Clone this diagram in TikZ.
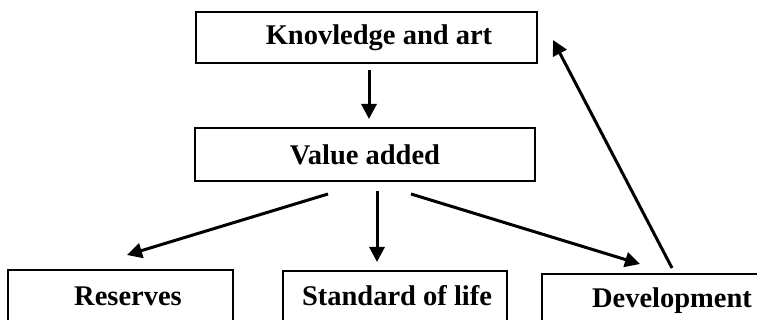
\documentclass[tikz,border=0pt]{standalone}
\usepackage{fontspec}
\setmainfont{Liberation Serif}
\usetikzlibrary{arrows.meta}

\tikzset{
  box/.style={draw=black, line width=2pt, rectangle, inner sep=0pt},
  label text/.style={anchor=base, inner sep=0pt,
    font=\fontsize{28.5pt}{30pt}\selectfont\bfseries},
  flow/.style={line width=3pt, -{Triangle[length=15pt,width=15pt]}},
}

\begin{document}
\begin{tikzpicture}[x=1pt, y=-1pt]
  \useasboundingbox (0,0) rectangle (757,320);
  \clip (0,0) rectangle (757,320);
  \fill[white] (0,0) rectangle (757,320);

  % boxes
  \node[box, minimum width=341pt, minimum height=51pt] (ka) at (366.5,37.5) {};
  \node[box, minimum width=340pt, minimum height=53pt] (va) at (365,154.5) {};
  \node[box, minimum width=225pt, minimum height=80pt] (res) at (120.5,310) {};
  \node[box, minimum width=224pt, minimum height=80pt] (sol) at (395,311) {};
  \node[box, minimum width=258pt, minimum height=80pt] (dev) at (671,314) {};

  % labels
  \node[label text] (ka-t)  at (379,45)  {Knovledge and art};
  \node[label text] (va-t)  at (365,165) {Value added};
  \node[label text] (res-t) at (128,305) {Reserves};
  \node[label text] (sol-t) at (397,305) {Standard of life};
  \node[label text] (dev-t) at (672,307) {Development};

  % connectors
  \draw[flow] ([shift={(2.5pt,-6pt)}]ka.south) -- ([shift={(4pt,8pt)}]va.north);
  \draw[flow] ([shift={(-37pt,-12pt)}]va.south) -- ([shift={(6.5pt,14pt)}]res.north);
  \draw[flow] ([shift={(12pt,-9pt)}]va.south) -- ([shift={(-18pt,8pt)}]sol.north);
  \draw[flow] ([shift={(46pt,-12pt)}]va.south) -- ([shift={(-31pt,9pt)}]dev.north);
  \draw[flow] ([shift={(1pt,5pt)}]dev.north) -- ([shift={(15pt,-2.5pt)}]ka.east);
\end{tikzpicture}
\end{document}
